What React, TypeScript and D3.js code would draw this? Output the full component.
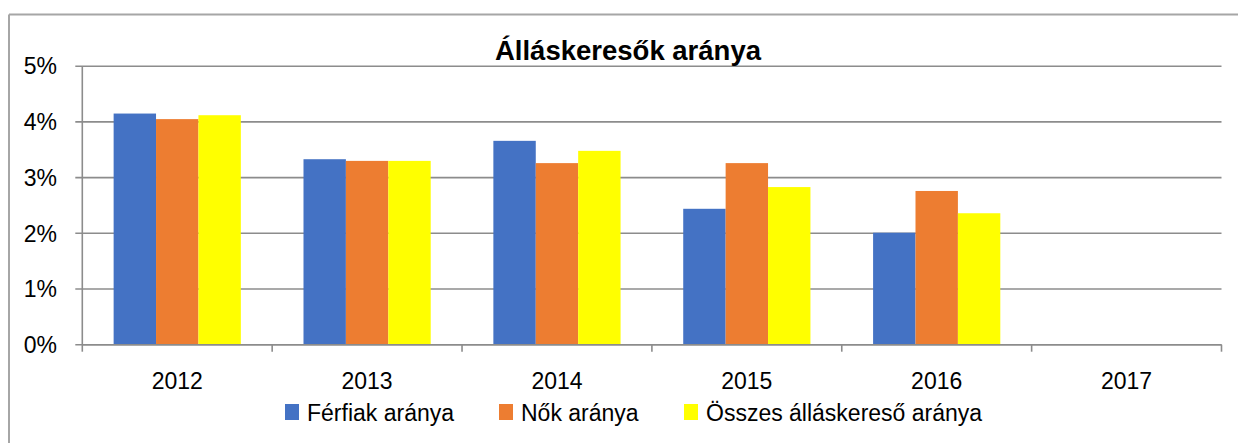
import React from "react";
import * as d3 from "d3";

const title = "Álláskeresők aránya";
const categories = ["2012", "2013", "2014", "2015", "2016", "2017"];
const seriesNames = ["Férfiak aránya", "Nők aránya", "Összes álláskereső aránya"];
const seriesColors = ["#4472C4", "#ED7D31", "#FFFF00"];
const ferfiak: (number | null)[] = [4.15, 3.33, 3.66, 2.44, 2.01, null];
const nok: (number | null)[] = [4.05, 3.3, 3.26, 3.26, 2.76, null];
const osszes: (number | null)[] = [4.12, 3.3, 3.48, 2.83, 2.36, null];
const yTicks = [0, 1, 2, 3, 4, 5];

const seriesValues = [ferfiak, nok, osszes];

export default function App() {
  const W = 1238;
  const H = 443;
  const left = 82.3;
  const right = 1221.5;
  const top = 66.2;
  const bottom = 344.7;
  const font = "'Liberation Sans', Arial, sans-serif";

  const x = d3.scaleBand<string>().domain(categories).range([left, right]).padding(0);
  const bw = x.bandwidth();
  const inner = d3
    .scaleBand<number>()
    .domain([0, 1, 2])
    .range([bw * 0.165, bw * 0.835])
    .padding(0);
  const y = d3.scaleLinear().domain([0, 5]).range([bottom, top]);

  const gridColor = "#8c8c8c";

  const legendX = [285, 499, 684];

  return (
    <svg
      width={W}
      height={H}
      style={{ position: "absolute", left: 0, top: 0, background: "#fff" }}
    >
      <rect x={0} y={0} width={W} height={H} fill="#fff" />
      {/* outer border (top & left only visible) */}
      <line x1={9} y1={14.5} x2={W} y2={14.5} stroke="#a6a6a6" strokeWidth={2} />
      <line x1={9} y1={14.5} x2={9} y2={H} stroke="#a6a6a6" strokeWidth={2} />

      {/* gridlines */}
      {yTicks.map((t) => (
        <g key={t}>
          <line
            x1={left - 7}
            x2={right}
            y1={y(t)}
            y2={y(t)}
            stroke={gridColor}
            strokeWidth={1.6}
          />
          <text
            x={57}
            y={y(t)}
            dy="0.36em"
            textAnchor="end"
            fontFamily={font}
            fontSize={23}
            fill="#000"
          >
            {t}%
          </text>
        </g>
      ))}
      {/* y axis */}
      <line x1={left} x2={left} y1={top} y2={bottom} stroke={gridColor} strokeWidth={1.6} />

      {/* bars */}
      {categories.map((c, ci) =>
        seriesValues.map((vals, si) => {
          const v = vals[ci];
          if (v == null) return null;
          return (
            <rect
              key={c + si}
              x={(x(c) as number) + (inner(si) as number)}
              y={y(v)}
              width={inner.bandwidth()}
              height={y(0) - y(v)}
              fill={seriesColors[si]}
            />
          );
        })
      )}

      {/* x axis */}
      <line x1={left} x2={right} y1={bottom} y2={bottom} stroke={gridColor} strokeWidth={1.6} />
      {d3.range(categories.length + 1).map((i) => (
        <line
          key={i}
          x1={left + i * bw}
          x2={left + i * bw}
          y1={bottom}
          y2={bottom + 7}
          stroke={gridColor}
          strokeWidth={1.6}
        />
      ))}
      {categories.map((c) => (
        <text
          key={c}
          x={(x(c) as number) + bw / 2}
          y={389}
          textAnchor="middle"
          fontFamily={font}
          fontSize={23}
          fill="#000"
        >
          {c}
        </text>
      ))}

      {/* title */}
      <text
        x={628}
        y={59.5}
        textAnchor="middle"
        fontFamily={font}
        fontSize={27.5}
        fontWeight="bold"
        fill="#000"
      >
        {title}
      </text>

      {/* legend */}
      {seriesNames.map((n, i) => (
        <g key={n}>
          <rect x={legendX[i]} y={404} width={14} height={16} fill={seriesColors[i]} />
          <text
            x={legendX[i] + 22}
            y={421}
            fontFamily={font}
            fontSize={23}
            fill="#000"
          >
            {n}
          </text>
        </g>
      ))}
    </svg>
  );
}
